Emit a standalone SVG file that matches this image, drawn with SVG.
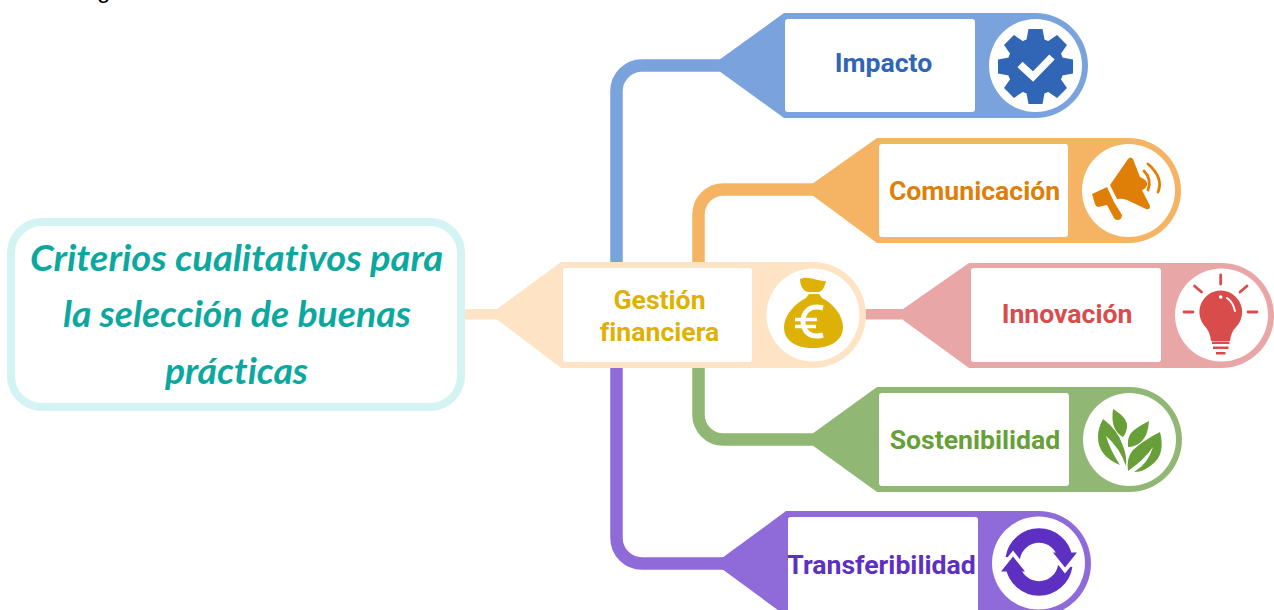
<svg xmlns="http://www.w3.org/2000/svg" width="1274" height="610" viewBox="0 0 1274 610">
<style>
.box{fill:#fff}
.lbl{font-family:Roboto,"Liberation Sans",sans-serif;font-weight:700;font-size:26.600px;text-anchor:middle;font-variant-ligatures:none}
.root{font-family:Lato,"Open Sans",sans-serif;font-style:italic;font-weight:700;font-size:36px;fill:#0ca8a0;text-anchor:middle;font-variant-ligatures:none}
.conn{fill:none;stroke-width:12.500}
.w{fill:none;stroke:#fff;stroke-linecap:round}
</style>
<rect width="1274" height="610" fill="#fff"/>
<text x="97" y="-2" font-family="Liberation Sans, Arial, sans-serif" font-size="24" fill="#000">g</text>
<g id="connectors">
<path class="conn" stroke="#7aa3de" d="M616.500 264V91A25.500 25.500 0 0 1 642 65.500H730"/>
<path class="conn" stroke="#f5b463" d="M698.500 264V215A25 25 0 0 1 723.500 189.500H825"/>
<path class="conn" stroke="#90b773" d="M698.500 366V414A25 25 0 0 0 723.500 439.500H825"/>
<path class="conn" stroke="#8f6bd9" d="M616.500 366V538A25.500 25.500 0 0 0 642 563.500H730"/>
<rect x="463" y="309" width="40" height="10.500" fill="#fee4c4"/>
<rect x="864" y="309" width="45" height="10.500" fill="#e9a6a6"/>
</g>
<g id="root">
<rect x="11" y="222" width="450" height="185" rx="31" fill="#fff" stroke="#d3f4f2" stroke-width="8"/>
<text class="root" x="236.500" y="271" textLength="413" lengthAdjust="spacingAndGlyphs">Criterios cualitativos para</text>
<text class="root" x="237" y="327" textLength="348" lengthAdjust="spacingAndGlyphs">la selección de buenas</text>
<text class="root" x="236.500" y="384" textLength="143" lengthAdjust="spacingAndGlyphs">prácticas</text>
</g>
<g id="gestion">
<path fill="#fee4c4" d="M497 309L561 262H813A53 53 0 0 1 813 368H561L497 319.500Z"/>
<rect class="box" x="563" y="268" width="189" height="94" rx="3"/>
<circle class="box" cx="813" cy="315" r="46.500"/>
<text class="lbl" fill="#deb106" x="659.500" y="309">Gestión</text>
<text class="lbl" fill="#deb106" x="659.500" y="341">financiera</text>
<path fill="#deb106" d="M800 279C808 275 816 281 826 281C825 287 822 291 819 292H808C803 291 800 285 800 279ZM809 294H819L822 298C834 304 843 316 843 327C843 341 830 348 813 348C796 348 784 341 784 327C784 316 794 304 806 298Z"/>
<path fill="none" stroke="#fff" stroke-width="5" d="M823 308C809 304 803 313 803 321.500C803 331 810 339 823 335"/>
<path fill="none" stroke="#fff" stroke-width="3.500" d="M795 319.500H817M795 326.500H816"/>
</g>
<g id="impacto">
<path fill="#7aa3de" d="M719 60L784 13H1035.500A52.500 52.500 0 0 1 1035.500 118H784L719 71Z"/>
<rect class="box" x="785" y="19" width="190" height="93" rx="3"/>
<circle class="box" cx="1035.500" cy="65.500" r="46.500"/>
<text class="lbl" fill="#3165b5" x="883.500" y="72">Impacto</text>
<g fill="#3165b5" transform="translate(1035.500 66.500)">
<circle r="28.500"/>
<path d="M-7 -37.500H7L9.500 -24H-9.500Z"/>
<path d="M-7 -37.500H7L9.500 -24H-9.500Z" transform="rotate(45)"/>
<path d="M-7 -37.500H7L9.500 -24H-9.500Z" transform="rotate(90)"/>
<path d="M-7 -37.500H7L9.500 -24H-9.500Z" transform="rotate(135)"/>
<path d="M-7 -37.500H7L9.500 -24H-9.500Z" transform="rotate(180)"/>
<path d="M-7 -37.500H7L9.500 -24H-9.500Z" transform="rotate(225)"/>
<path d="M-7 -37.500H7L9.500 -24H-9.500Z" transform="rotate(270)"/>
<path d="M-7 -37.500H7L9.500 -24H-9.500Z" transform="rotate(315)"/>
</g>
<path fill="none" stroke="#fff" stroke-width="7.500" d="M1020 64.500L1033 76.500L1052 57"/>
</g>
<g id="comunicacion">
<path fill="#f5b463" d="M812 184L877 138H1128.500A52.500 52.500 0 0 1 1128.500 243H877L812 195Z"/>
<rect class="box" x="879" y="144" width="189" height="93" rx="3"/>
<circle class="box" cx="1128.500" cy="190.500" r="46.500"/>
<text class="lbl" fill="#e07f07" x="974.500" y="199.500">Comunicación</text>
<path fill="#e07f07" d="M1110 185L1128 159Q1131 156 1133 159L1140 177Q1148 180 1147 185Q1146 189 1142 190L1150 206Q1150 210 1146 209L1127 200Q1122 198 1117 199ZM1092 194L1107 187L1114 202L1122 215Q1122 220 1117 220Q1115 220 1114 218L1107 205L1098 207Q1096 207 1095 204Z"/>
<path fill="none" stroke="#e07f07" stroke-width="2.800" stroke-linecap="round" d="M1144 171Q1152 179 1148 190M1148 164Q1164 178 1158 192"/>
</g>
<g id="innovacion">
<path fill="#e9a6a6" d="M903 309L969 263H1221.500A52.500 52.500 0 0 1 1221.500 368H969L903 320Z"/>
<rect class="box" x="971" y="268" width="190" height="94" rx="3"/>
<circle class="box" cx="1221.500" cy="315" r="46.500"/>
<text class="lbl" fill="#d94c4c" x="1067" y="323">Innovación</text>
<path fill="#d94c4c" d="M1220.700 290.500A21.500 21.500 0 0 1 1236 327Q1231 332 1230 341H1211Q1210 332 1205.500 327A21.500 21.500 0 0 1 1220.700 290.500ZM1212 341.500H1229.500V344H1212ZM1213 346.500H1228.500V349H1213ZM1216 352H1225.500V354.500H1216Z"/>
<path fill="none" stroke="#d94c4c" stroke-width="2.800" stroke-linecap="round" d="M1220.700 275V284M1194.500 286L1201.500 292M1247 286L1240 292M1184 312H1193M1248 312H1257"/>
<circle cx="1220.700" cy="297" r="1.800" fill="#fff"/>
<path class="w" stroke-width="2" d="M1227 298Q1233 302 1235 311"/>
</g>
<g id="sostenibilidad">
<path fill="#90b773" d="M812 434L877 387H1129.500A52.500 52.500 0 0 1 1129.500 492H877L812 445Z"/>
<rect class="box" x="879" y="393" width="190" height="93" rx="3"/>
<circle class="box" cx="1129.500" cy="439.500" r="46.500"/>
<text class="lbl" fill="#689f38" x="975" y="449">Sostenibilidad</text>
<g fill="#689f38">
<path d="M1113 409Q1128 418 1127 427Q1126 434 1123 437Q1110 430 1113 409Z"/>
<path d="M1103 419Q1118 430 1123 446Q1127 456 1126 466Q1120 448 1106 436Q1110 450 1120 465Q1098 456 1098 437Q1098 428 1103 419Z"/>
<path d="M1149 421Q1148 436 1141 442Q1135 447 1128 447Q1127 436 1133 431Q1139 426 1149 421Z"/>
<path d="M1160 432Q1165 452 1155 462Q1145 472 1134 472Q1148 464 1153 447Q1144 460 1128 471Q1126 458 1133 450Q1144 440 1160 432Z"/>
</g>
</g>
<g id="transferibilidad">
<path fill="#8f6bd9" d="M722 558L786 511H1038.500A52.500 52.500 0 0 1 1038.500 616H786L722 569Z"/>
<rect class="box" x="788" y="517" width="190" height="95" rx="3"/>
<circle class="box" cx="1038.500" cy="563" r="46.500"/>
<text class="lbl" fill="#5e30c2" x="881.500" y="573.500">Transferibilidad</text>
<path fill="none" stroke="#5e30c2" stroke-width="14.500" d="M1012.800 558A26.500 26.500 0 0 1 1065.200 558M1012.800 566A26.500 26.500 0 0 0 1065.200 566"/>
<path fill="none" stroke="#fff" stroke-width="5" d="M1000 571L1013 554.500L1026 571M1052 553L1065 569.500L1078 553"/>
<path fill="#5e30c2" d="M1001 571.500H1025L1013 556.500ZM1053 552.500H1077L1065 567.500Z"/>
</g>
</svg>
